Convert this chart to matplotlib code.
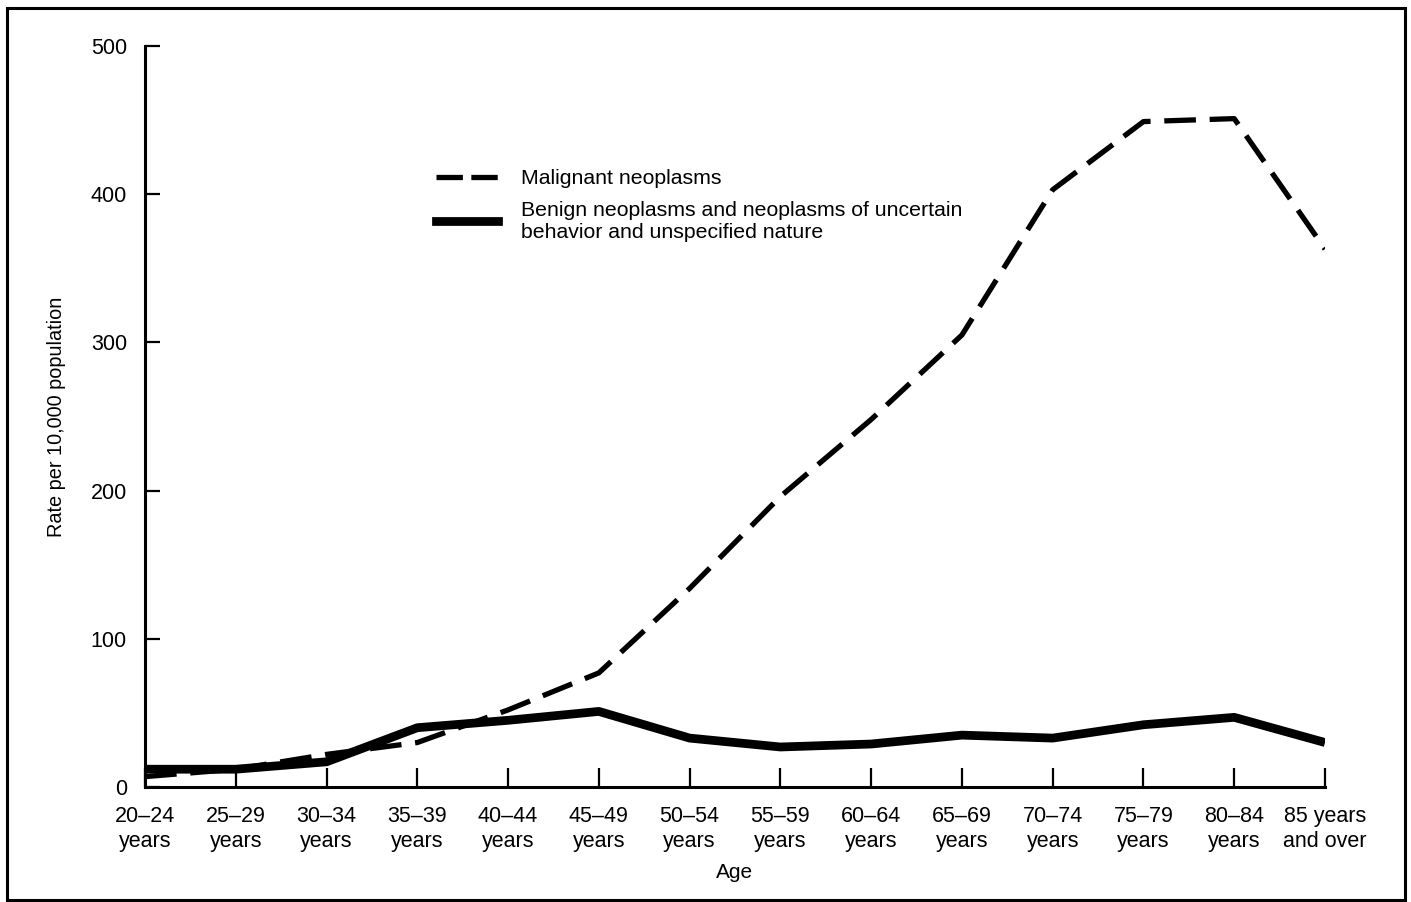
import matplotlib.pyplot as plt
from matplotlib.lines import Line2D
from matplotlib.patches import Rectangle

plt.rcParams['font.family'] = ['Liberation Sans', 'DejaVu Sans']

age_groups = ['20–24\nyears', '25–29\nyears', '30–34\nyears', '35–39\nyears',
              '40–44\nyears', '45–49\nyears', '50–54\nyears', '55–59\nyears',
              '60–64\nyears', '65–69\nyears', '70–74\nyears', '75–79\nyears',
              '80–84\nyears', '85 years\nand over']
malignant = [7, 12, 22, 30, 52, 77, 134, 196, 248, 305, 403, 449, 451, 363]
benign = [12, 12, 17, 40, 45, 51, 33, 27, 29, 35, 33, 42, 47, 30]
y_ticks = [0, 100, 200, 300, 400, 500]

fig = plt.figure(figsize=(14.11, 9.02), dpi=100)
ax = fig.add_axes([145 / 1411, 115 / 902, 1180 / 1411, 741 / 902])

x = list(range(len(age_groups)))
ax.plot(x, malignant, color='black', lw=3.8, dashes=(6, 2.6),
        solid_joinstyle='round', dash_capstyle='butt')
ax.plot(x, benign, color='black', lw=6.3, solid_joinstyle='round',
        solid_capstyle='butt')

ax.set_xlim(0, len(age_groups) - 1)
ax.set_ylim(0, 500)
ax.set_xticks(x)
ax.set_xticklabels(age_groups, fontsize=15.5, linespacing=1.2)
ax.set_yticks(y_ticks)
ax.set_yticklabels([str(v) for v in y_ticks], fontsize=15.5)
ax.tick_params(axis='x', direction='in', length=14, width=1.6, pad=14)
ax.tick_params(axis='y', direction='in', length=11, width=1.6, pad=13)

for s in ['top', 'right']:
    ax.spines[s].set_visible(False)
for s in ['left', 'bottom']:
    ax.spines[s].set_linewidth(2.2)

ax.set_xlabel('Age', fontsize=15, labelpad=8)
ax.set_ylabel('Rate per 10,000 population', fontsize=14.3, labelpad=18)

handles = [
    Line2D([], [], color='black', lw=3.8, dashes=(5, 1.6)),
    Line2D([], [], color='black', lw=6.3),
]
labels = ['Malignant neoplasms',
          'Benign neoplasms and neoplasms of uncertain\nbehavior and unspecified nature']
ax.legend(handles, labels, loc='upper left', bbox_to_anchor=(0.247, 0.834),
          frameon=False, fontsize=15.3, handlelength=2.9, handletextpad=1.1,
          labelspacing=0.6, borderpad=0, borderaxespad=0)

fig.patches.append(Rectangle((7 / 1411, 2 / 902), 1398 / 1411, 892 / 902,
                             transform=fig.transFigure, fill=False,
                             edgecolor='black', lw=2.2))

fig.savefig('out.png', dpi=100)
